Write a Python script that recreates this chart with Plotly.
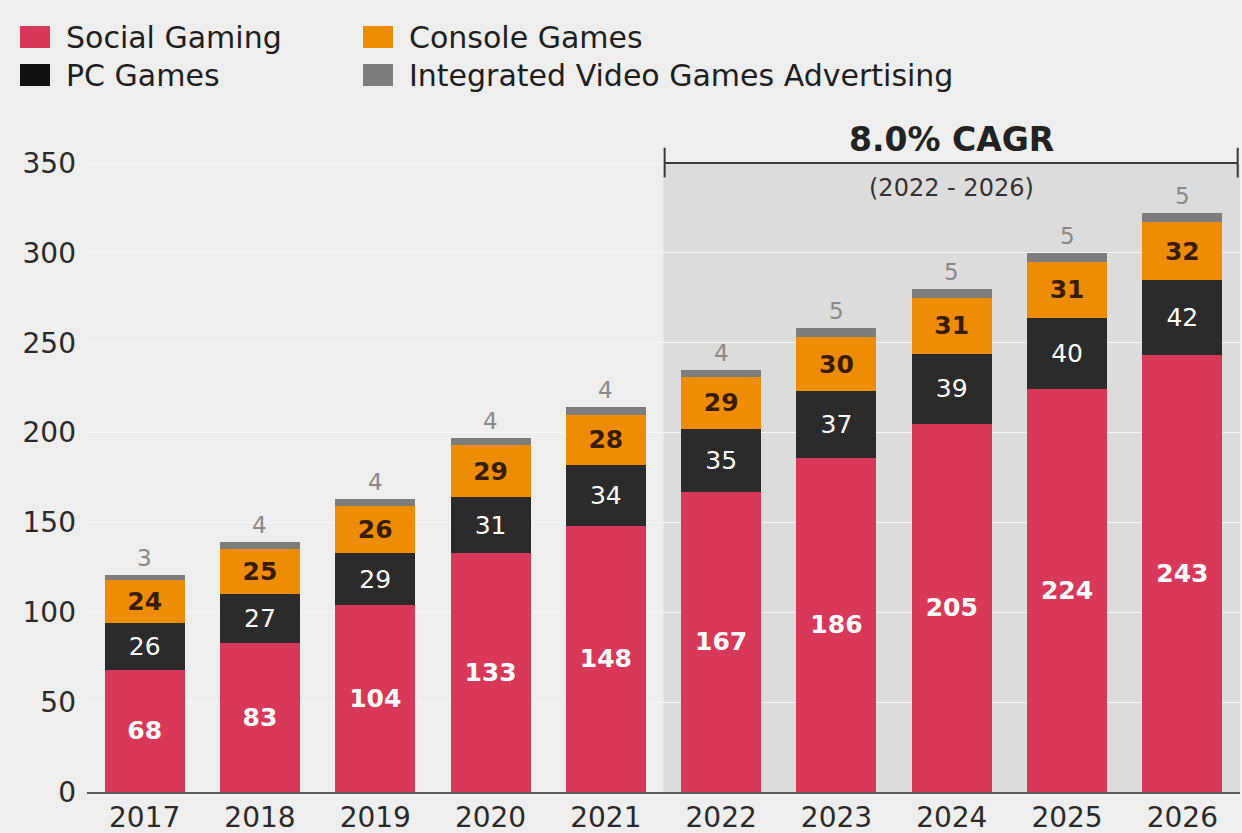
import plotly.graph_objects as go

years = ["2017", "2018", "2019", "2020", "2021", "2022", "2023", "2024", "2025", "2026"]
social_gaming = [68, 83, 104, 133, 148, 167, 186, 205, 224, 243]
pc_games = [26, 27, 29, 31, 34, 35, 37, 39, 40, 42]
console_games = [24, 25, 26, 29, 28, 29, 30, 31, 31, 32]
video_ads = [3, 4, 4, 4, 4, 4, 5, 5, 5, 5]

series_names = ["Social Gaming", "PC Games", "Console Games", "Integrated Video Games Advertising"]
series_colors = ["#d8385a", "#2b2b2b", "#ee8c06", "#7d7d7d"]

FONT = "DejaVu Sans, Arial, sans-serif"
BG = "#eeeeee"

fig = go.Figure()

label_styles = [
    dict(color="white", size=28, weight="bold"),
    dict(color="white", size=27, weight="normal"),
    dict(color="#3a1c00", size=25, weight="bold"),
]
for vals, name, color, style in zip([social_gaming, pc_games, console_games],
                                    series_names[:3], series_colors[:3], label_styles):
    fig.add_trace(go.Bar(
        x=years, y=vals, name=name, marker=dict(color=color, line=dict(width=0)),
        text=[str(v) for v in vals], textposition="inside", insidetextanchor="middle",
        textangle=0, textfont=dict(family=FONT, **style), showlegend=False,
    ))
fig.add_trace(go.Bar(
    x=years, y=video_ads, name=series_names[3],
    marker=dict(color=series_colors[3], line=dict(width=0)), showlegend=False,
))
fig.update_layout(uniformtext=dict(minsize=22, mode="show"))

# advertising values sit above each stack
totals = [a + b + c + d for a, b, c, d in zip(social_gaming, pc_games, console_games, video_ads)]
for i, (tot, ad) in enumerate(zip(totals, video_ads)):
    fig.add_annotation(x=i, y=tot, text=str(ad), showarrow=False, yanchor="bottom", yshift=2,
                       font=dict(family=FONT, size=23, color="#8a8a8a"))

# forecast period shading and CAGR bracket
fig.add_shape(type="rect", xref="x", yref="y", x0=4.5, x1=9.5, y0=0, y1=350,
              fillcolor="#dcdcdc", line=dict(width=0), layer="below")
fig.add_shape(type="line", xref="x", yref="y", x0=4.51, x1=9.48, y0=350, y1=350,
              line=dict(color="#3a3a3a", width=2))
for xv in (4.51, 9.48):
    fig.add_shape(type="line", xref="x", yref="y", x0=xv, x1=xv, y0=342, y1=358.5,
                  line=dict(color="#3a3a3a", width=2))
fig.add_annotation(x=7, y=363, text="<b>8.0% CAGR</b>", showarrow=False,
                   font=dict(family=FONT, size=33, color="#222222"))
fig.add_annotation(x=7, y=336, text="(2022 - 2026)", showarrow=False,
                   font=dict(family=FONT, size=24, color="#333333"))

# legend drawn as swatches with labels, two columns
legend_layout = [
    (series_names[0], series_colors[0], 20, 37),
    (series_names[2], series_colors[2], 363, 37),
    (series_names[1], "#111111", 20, 75),
    (series_names[3], series_colors[3], 363, 75),
]
W, H = 1242, 833
for name, color, px, py in legend_layout:
    fig.add_shape(type="rect", xref="paper", yref="paper",
                  x0=(px - 87) / (W - 89), x1=(px + 30 - 87) / (W - 89),
                  y0=(792 - py - 11) / 682, y1=(792 - py + 11) / 682,
                  fillcolor=color, line=dict(width=0))
    fig.add_annotation(xref="paper", yref="paper", x=(px + 44 - 87) / (W - 89),
                       y=(792 - py) / 682, text=name, showarrow=False, xanchor="left",
                       yanchor="middle", font=dict(family=FONT, size=30, color="#1e1e1e"))

fig.update_layout(
    width=W, height=H, barmode="stack", bargap=0.306,
    paper_bgcolor=BG, plot_bgcolor=BG,
    margin=dict(l=87, r=2, t=110, b=41),
    font=dict(family=FONT, size=26, color="#2a2a2a"),
    showlegend=False,
)
fig.update_xaxes(type="category", range=[-0.5, 9.5], showline=True, linecolor="#5a5a5a",
                 linewidth=1.5, ticks="", showgrid=False, automargin=False,
                 tickfont=dict(size=28, color="#2a2a2a"), ticklabelstandoff=0)
fig.update_yaxes(range=[0, 379.5], tickvals=[0, 50, 100, 150, 200, 250, 300, 350],
                 showgrid=True, gridcolor="#f6f6f6", gridwidth=1, zeroline=False,
                 automargin=False, tickfont=dict(size=28, color="#2a2a2a"), ticks="",
                 ticklabelstandoff=10)

fig.write_html("out.html")
